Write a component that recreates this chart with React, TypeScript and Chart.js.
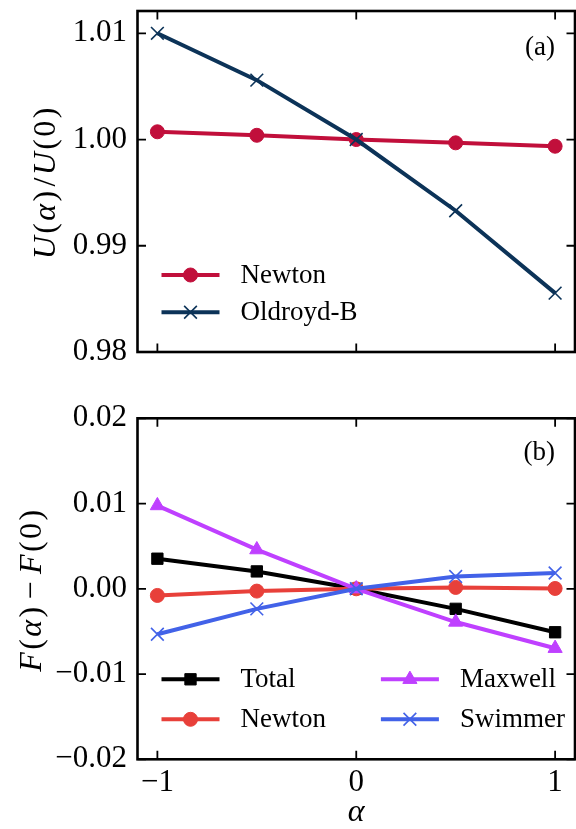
import { useEffect, useRef } from 'react';
import { Chart, registerables } from 'chart.js';
Chart.register(...registerables);

// ---------- data ----------
const alphaValues = [-1, -0.5, 0, 0.5, 1];
const xTickValues = [-1, 0, 1];
const xTickLabels = ['\u22121', '0', '1'];

const topYTickValues = [0.98, 0.99, 1.0, 1.01];
const topYTickLabels = ['0.98', '0.99', '1.00', '1.01'];
const topNewton = [1.00073, 1.0004, 1.0, 0.99969, 0.99937];
const topOldroydB = [1.01, 1.00559, 1.0, 0.9933, 0.98554];

const botYTickValues = [-0.02, -0.01, 0, 0.01, 0.02];
const botYTickLabels = ['\u22120.02', '\u22120.01', '0.00', '0.01', '0.02'];
const botTotal = [0.00353, 0.00204, 0, -0.00235, -0.0051];
const botNewton = [-0.00078, -0.00027, 0, 0.00016, 0.00004];
const botMaxwell = [0.00976, 0.00459, 0, -0.0039, -0.00698];
const botSwimmer = [-0.00533, -0.00235, 0, 0.00145, 0.00185];

const SERIF = "'Liberation Serif', 'DejaVu Serif', serif";

type Series = {
  label: string;
  values: number[];
  color: string;
  style: string;
  radius: number;
  bw: number;
};

const topSeries: Series[] = [
  { label: 'Newton', values: topNewton, color: '#C10F3B', style: 'circle', radius: 7, bw: 1 },
  { label: 'Oldroyd-B', values: topOldroydB, color: '#0C3358', style: 'crossRot', radius: 9, bw: 1.6 },
];

const botSeries: Series[] = [
  { label: 'Total', values: botTotal, color: '#000000', style: 'rect', radius: 8, bw: 1 },
  { label: 'Newton', values: botNewton, color: '#E8403A', style: 'circle', radius: 7, bw: 1 },
  { label: 'Maxwell', values: botMaxwell, color: '#BF40FF', style: 'triangle', radius: 8.2, bw: 1 },
  { label: 'Swimmer', values: botSwimmer, color: '#4262E8', style: 'crossRot', radius: 9, bw: 1.6 },
];

type Seg = { t: string; it: boolean; pre?: number; post?: number };

const topTitle: Seg[] = [
  { t: 'U', it: true },
  { t: '(', it: false },
  { t: 'α', it: true },
  { t: ')', it: false },
  { t: '/', it: false, pre: 2 },
  { t: 'U', it: true },
  { t: '(', it: false },
  { t: '0', it: false },
  { t: ')', it: false },
];

const botTitle: Seg[] = [
  { t: 'F', it: true },
  { t: '(', it: false },
  { t: 'α', it: true },
  { t: ')', it: false },
  { t: '\u2212', it: false, pre: 5, post: 5 },
  { t: 'F', it: true },
  { t: '(', it: false },
  { t: '0', it: false },
  { t: ')', it: false },
];

function drawMathTitle(ctx: CanvasRenderingContext2D, segs: Seg[], cx: number, cy: number, size: number, gap: number) {
  ctx.save();
  ctx.translate(cx, cy);
  ctx.rotate(-Math.PI / 2);
  ctx.textBaseline = 'middle';
  ctx.textAlign = 'left';
  ctx.fillStyle = '#000';
  const fontOf = (s: Seg) => `${s.it ? 'italic ' : ''}${size}px ${SERIF}`;
  const widths = segs.map((s) => {
    ctx.font = fontOf(s);
    return ctx.measureText(s.t).width;
  });
  let total = 0;
  segs.forEach((s, i) => {
    total += widths[i] + (s.pre || 0) + (s.post || 0);
    if (i < segs.length - 1) total += gap;
  });
  let x = -total / 2;
  segs.forEach((s, i) => {
    ctx.font = fontOf(s);
    x += s.pre || 0;
    ctx.fillText(s.t, x, 0);
    x += widths[i] + (s.post || 0) + gap;
  });
  ctx.restore();
}

function drawMarker(ctx: CanvasRenderingContext2D, style: string, x: number, y: number, r: number, color: string, bw: number) {
  ctx.save();
  ctx.fillStyle = color;
  ctx.strokeStyle = color;
  ctx.lineWidth = bw;
  ctx.beginPath();
  if (style === 'circle') {
    ctx.arc(x, y, r, 0, Math.PI * 2);
    ctx.fill();
    ctx.stroke();
  } else if (style === 'rect') {
    const s = Math.SQRT1_2 * r;
    ctx.rect(x - s, y - s, 2 * s, 2 * s);
    ctx.fill();
    ctx.stroke();
  } else if (style === 'triangle') {
    let a = 0;
    ctx.moveTo(x + Math.sin(a) * r, y - Math.cos(a) * r);
    a += (2 * Math.PI) / 3;
    ctx.lineTo(x + Math.sin(a) * r, y - Math.cos(a) * r);
    a += (2 * Math.PI) / 3;
    ctx.lineTo(x + Math.sin(a) * r, y - Math.cos(a) * r);
    ctx.closePath();
    ctx.fill();
    ctx.stroke();
  } else if (style === 'crossRot') {
    const s = Math.SQRT1_2 * r;
    ctx.moveTo(x - s, y - s);
    ctx.lineTo(x + s, y + s);
    ctx.moveTo(x - s, y + s);
    ctx.lineTo(x + s, y - s);
    ctx.stroke();
  }
  ctx.restore();
}

type LegendPos = { dx: number; y: number };

type PanelCfg = {
  series: Series[];
  yTickValues: number[];
  yTickLabels: string[];
  yMin: number;
  yMax: number;
  yTitle: Seg[];
  yTitleX: number;
  showXLabels: boolean;
  padTop: number;
  xAxisHeight: number;
  legendPos: LegendPos[];
  panelLabel: string;
  panelY: number;
};

const LEFT = 137.5;
const RIGHT_PAD = 1;
const LINE_W = 4;

function makeChart(canvas: HTMLCanvasElement, cfg: PanelCfg) {
  const { series, yTickValues, yTickLabels } = cfg;
  const framePlugin = {
    id: 'frameAndLegend',
    afterDraw(chart: any) {
      const ctx: CanvasRenderingContext2D = chart.ctx;
      const { left, right, top, bottom } = chart.chartArea;
      const xs = chart.scales.x;
      const ys = chart.scales.y;
      ctx.save();
      ctx.strokeStyle = '#000';
      ctx.lineWidth = 1.8;
      const tl = 8.5;
      ctx.beginPath();
      for (const v of xTickValues) {
        const px = xs.getPixelForValue(v);
        ctx.moveTo(px, bottom);
        ctx.lineTo(px, bottom - tl);
        ctx.moveTo(px, top);
        ctx.lineTo(px, top + tl);
      }
      for (const v of yTickValues) {
        const py = ys.getPixelForValue(v);
        ctx.moveTo(left, py);
        ctx.lineTo(left + tl, py);
        ctx.moveTo(right, py);
        ctx.lineTo(right - tl, py);
      }
      ctx.stroke();
      ctx.lineWidth = 2.6;
      ctx.strokeRect(left, top, right - left, bottom - top);

      // y title (math style)
      drawMathTitle(ctx, cfg.yTitle, cfg.yTitleX, (top + bottom) / 2 + 2, 32, 2.4);

      // legend
      ctx.font = `27px ${SERIF}`;
      ctx.textBaseline = 'middle';
      ctx.textAlign = 'left';
      series.forEach((s, i) => {
        const p = cfg.legendPos[i];
        const x0 = left + p.dx;
        const y0 = p.y;
        ctx.beginPath();
        ctx.strokeStyle = s.color;
        ctx.lineWidth = LINE_W;
        ctx.moveTo(x0, y0);
        ctx.lineTo(x0 + 58, y0);
        ctx.stroke();
        drawMarker(ctx, s.style, x0 + 29, y0, s.radius, s.color, s.bw);
        ctx.fillStyle = '#000';
        ctx.fillText(s.label, x0 + 79, y0 + 1);
      });

      // panel label
      ctx.textAlign = 'right';
      ctx.fillStyle = '#000';
      ctx.fillText(cfg.panelLabel, right - 20, cfg.panelY);
      ctx.restore();
    },
  };

  return new Chart(canvas, {
    type: 'line',
    data: {
      datasets: series.map((s, i) => ({
        label: s.label,
        data: alphaValues.map((a, j) => ({ x: a, y: s.values[j] })),
        borderColor: s.color,
        backgroundColor: s.color,
        borderWidth: LINE_W,
        pointStyle: s.style as any,
        pointRadius: s.radius,
        pointBorderWidth: s.bw,
        pointBackgroundColor: s.color,
        pointBorderColor: s.color,
        tension: 0,
        order: series.length - i,
      })),
    },
    options: {
      responsive: false,
      animation: false,
      layout: { autoPadding: false, padding: { left: 0, right: RIGHT_PAD, top: cfg.padTop, bottom: 0 } },
      plugins: {
        legend: { display: false },
        tooltip: { enabled: false },
      },
      scales: {
        x: {
          type: 'linear',
          min: -1.1,
          max: 1.1,
          grid: { display: false, drawTicks: false },
          border: { display: false },
          afterBuildTicks: (s: any) => {
            s.ticks = xTickValues.map((v) => ({ value: v }));
          },
          afterFit: (s: any) => {
            s.height = cfg.xAxisHeight;
            s.paddingLeft = 0;
            s.paddingRight = 0;
            s.paddingTop = 0;
            s.paddingBottom = 0;
          },
          ticks: {
            display: cfg.showXLabels,
            padding: 5,
            maxRotation: 0,
            color: '#000',
            font: { family: SERIF, size: 31 },
            callback: (v: any) => {
              const idx = xTickValues.indexOf(Number(v));
              return idx >= 0 ? xTickLabels[idx] : '';
            },
          },
          title: {
            display: cfg.showXLabels,
            text: 'α',
            color: '#000',
            font: { family: SERIF, size: 32, style: 'italic' },
            padding: { top: 0, bottom: -3 },
          },
        },
        y: {
          type: 'linear',
          min: cfg.yMin,
          max: cfg.yMax,
          grid: { display: false, drawTicks: false },
          border: { display: false },
          afterBuildTicks: (s: any) => {
            s.ticks = yTickValues.map((v) => ({ value: v }));
          },
          afterFit: (s: any) => {
            s.width = LEFT;
            s.paddingLeft = 0;
            s.paddingRight = 0;
            s.paddingTop = 0;
            s.paddingBottom = 0;
          },
          ticks: {
            padding: 10.5,
            color: '#000',
            font: { family: SERIF, size: 31 },
            callback: (v: any) => {
              const idx = yTickValues.findIndex((t) => Math.abs(t - Number(v)) < 1e-9);
              return idx >= 0 ? yTickLabels[idx] : '';
            },
          },
          title: { display: false },
        },
      },
    },
    plugins: [framePlugin],
  } as any);
}

export default function App() {
  const topRef = useRef<HTMLCanvasElement | null>(null);
  const botRef = useRef<HTMLCanvasElement | null>(null);

  useEffect(() => {
    const c1 = makeChart(topRef.current!, {
      series: topSeries,
      yTickValues: topYTickValues,
      yTickLabels: topYTickLabels,
      yMin: 0.98,
      yMax: 1.0121,
      yTitle: topTitle,
      yTitleX: 47,
      showXLabels: false,
      padTop: 11,
      xAxisHeight: 48,
      legendPos: [
        { dx: 24, y: 275 },
        { dx: 24, y: 312.3 },
      ],
      panelLabel: '(a)',
      panelY: 48.3,
    });
    const c2 = makeChart(botRef.current!, {
      series: botSeries,
      yTickValues: botYTickValues,
      yTickLabels: botYTickLabels,
      yMin: -0.02,
      yMax: 0.02,
      yTitle: botTitle,
      yTitleX: 32.5,
      showXLabels: true,
      padTop: 18.3,
      xAxisHeight: 69.7,
      legendPos: [
        { dx: 24, y: 279.3 },
        { dx: 24, y: 319.3 },
        { dx: 243.4, y: 279.3 },
        { dx: 243.4, y: 319.3 },
      ],
      panelLabel: '(b)',
      panelY: 53.3,
    });
    return () => {
      c1.destroy();
      c2.destroy();
    };
  }, []);

  return (
    <div style={{ position: 'absolute', left: 0, top: 0, width: 576, height: 829, background: '#fff' }}>
      <canvas ref={topRef} width={576} height={400} style={{ position: 'absolute', left: 0, top: 0, width: 576, height: 400 }} />
      <canvas ref={botRef} width={576} height={429} style={{ position: 'absolute', left: 0, top: 400, width: 576, height: 429 }} />
    </div>
  );
}
